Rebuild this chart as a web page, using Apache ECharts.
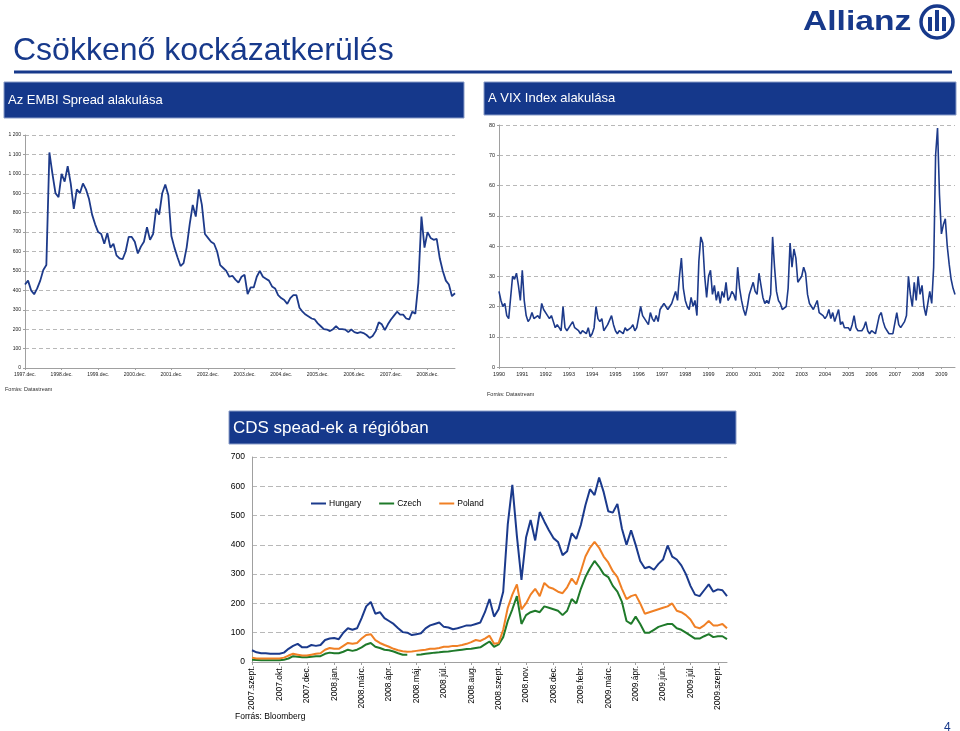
<!DOCTYPE html>
<html>
<head>
<meta charset="utf-8">
<title>Csökkenő kockázatkerülés</title>
<script src="https://cdn.jsdelivr.net/npm/echarts@6/dist/echarts.min.js"></script>
<style>
  html, body { margin: 0; padding: 0; background: #fff; }
  #slide { width: 960px; height: 731px; }
</style>
</head>
<body>
<div id="slide"></div>
<script>
// EMBI spread, monthly, 1997.dec - 2009.szept
var embiTicks = ['1997.dec.', '1998.dec.', '1999.dec.', '2000.dec.', '2001.dec.', '2002.dec.',
  '2003.dec.', '2004.dec.', '2005.dec.', '2006.dec.', '2007.dec.', '2008.dec.'];
var embiSpread = [
  430, 450, 400, 380, 410, 450, 505, 530, 1110, 1000, 900, 880,
  1000, 960, 1040, 950, 820, 920, 900, 950, 920, 870, 790, 740,
  700, 690, 640, 695, 620, 640, 580, 565, 560, 600, 675, 675,
  650, 590, 625, 650, 725, 660, 690, 820, 790, 900, 945, 890,
  680, 620, 570, 525, 540, 620, 740, 840, 780, 920, 840, 690,
  670, 650, 640, 600, 530, 515, 500, 470, 475, 455, 440, 470,
  480, 380, 415, 415, 470, 500, 470, 460, 450, 420, 410, 375,
  360, 350, 330, 360, 375, 375, 310, 290, 275, 265, 255, 250,
  230, 215, 200, 198, 190, 200, 215, 200, 200, 198, 185, 198,
  185, 180, 185, 180, 170, 155, 165, 190, 235, 225, 195, 225,
  250, 270, 290, 275, 275, 255, 250, 290, 280, 440, 780, 620,
  700, 670, 660, 665, 565, 500, 450, 430, 370, 385
];

// VIX index, monthly, 1990.jan - 2009.aug
var vixTicks = ['1990', '1991', '1992', '1993', '1994', '1995', '1996', '1997', '1998', '1999',
  '2000', '2001', '2002', '2003', '2004', '2005', '2006', '2007', '2008', '2009'];
var vixIndex = [
  25, 22, 20, 21, 17, 16, 16, 30, 29, 31, 27, 22,
  32, 22, 17, 15, 16, 18, 16, 16, 17, 16, 21, 19,
  19, 17, 16, 17, 15, 13, 14, 13, 12, 20, 13, 12,
  12, 14, 15, 13, 13, 12, 11, 12, 12, 11, 13, 10,
  11, 13, 20, 16, 15, 16, 12, 12, 14, 14, 17, 14,
  12, 11, 12, 12, 11, 13, 12, 12, 13, 14, 12, 13,
  13, 20, 17, 16, 15, 14, 18, 16, 15, 17, 15, 19,
  20, 21, 20, 19, 20, 21, 23, 25, 22, 30, 36, 26,
  22, 20, 19, 23, 20, 22, 17, 35, 43, 41, 30, 23,
  30, 32, 24, 27, 22, 25, 21, 25, 23, 28, 22, 23,
  25, 24, 22, 33, 26, 22, 19, 17, 20, 24, 26, 28,
  25, 24, 31, 27, 23, 21, 22, 21, 24, 43, 33, 25,
  22, 21, 19, 19, 20, 26, 41, 33, 39, 36, 28, 28,
  30, 33, 31, 24, 21, 20, 19, 19, 22, 18, 18, 17,
  16, 17, 19, 16, 18, 15, 15, 19, 14, 15, 13, 13,
  13, 12, 14, 17, 13, 12, 12, 12, 13, 15, 12, 11,
  12, 12, 11, 11, 17, 18, 15, 13, 12, 11, 11, 11,
  11, 18, 14, 13, 13, 15, 17, 30, 24, 20, 28, 22,
  30, 24, 27, 20, 17, 21, 25, 21, 33, 70, 79, 57,
  44, 47, 49, 40, 34, 29, 26, 24
];

// CDS spreads, weekly, 2007.szept - 2009.szept (one tick label every 6 weeks)
var cdsTicks = ['2007.szept.', '2007.okt.', '2007.dec.', '2008.jan.', '2008.márc.', '2008.ápr.',
  '2008.máj.', '2008.júl.', '2008.aug.', '2008.szept.', '2008.nov.', '2008.dec.',
  '2009.febr.', '2009.márc.', '2009.ápr.', '2009.jún.', '2009.júl.', '2009.szept.'];
var cdsHungary = [
  40, 33, 30, 30, 28, 28, 28, 32, 45, 55, 62, 50,
  50, 58, 55, 58, 75, 80, 82, 78, 100, 115, 110, 115,
  150, 190, 205, 165, 170, 150, 140, 130, 115, 102, 100, 92,
  95, 98, 115, 125, 130, 135, 120, 118, 112, 115, 120, 125,
  125, 130, 135, 170, 215, 155, 180, 240, 470, 605, 430, 280,
  425, 485, 415, 512, 480, 450, 423, 410, 365, 378, 440, 420,
  468, 535, 590, 570, 630, 580, 515, 510, 540, 455, 400, 450,
  400, 345, 320, 325, 315, 335, 350, 398, 360, 350, 330, 300,
  260, 230, 225, 245, 265, 240, 248, 245, 225
];
var cdsCzech = [
  8, 7, 6, 6, 6, 6, 6, 8, 12, 20, 18, 16,
  16, 18, 20, 20, 28, 32, 30, 30, 35, 42, 38, 42,
  50, 60, 65, 52, 48, 42, 40, 36, 30, 25, 25, null,
  25, 26, 28, 30, 32, 33, 35, 36, 38, 40, 42, 44,
  45, 48, 50, 60, 70, 52, 60, 85, 140, 180, 225, 130,
  160, 170, 175, 170, 190, 185, 180, 175, 160, 175, 215, 200,
  250, 290, 320, 345, 325, 300, 290, 260, 240, 205, 140, 130,
  155, 130, 100, 100, 110, 120, 125, 130, 130, 115, 110, 100,
  90, 80, 80, 88, 95, 85, 88, 88, 78
];
var cdsPoland = [
  15, 12, 12, 12, 12, 12, 12, 15, 22, 28, 25, 22,
  22, 25, 28, 30, 42, 48, 45, 45, 55, 65, 62, 65,
  80, 92, 95, 75, 65, 58, 52, 45, 40, 37, 35, 36,
  38, 40, 42, 45, 45, 48, 52, 52, 55, 55, 58, 62,
  68, 75, 72, 80, 90, 62, 65, 110, 185, 230, 265, 180,
  200, 230, 250, 225, 270, 255, 250, 240, 235, 255, 285, 265,
  310, 360, 390, 410, 390, 360, 340, 310, 290, 250, 215, 225,
  230, 200, 165, 170, 175, 180, 185, 190, 200, 175, 170, 160,
  145, 120, 115, 125, 140, 125, 125, 130, 115
];
var cdsNames = ['Hungary', 'Czech', 'Poland'];

var FONT = '"Liberation Sans", Arial, sans-serif';
var BLUE = '#17398b';

var chart = echarts.init(document.getElementById('slide'), null, { renderer: 'canvas' });

function idx(arr) { return arr.map(function (v, i) { return i; }); }
function spaced(v) { return v >= 1000 ? Math.floor(v / 1000) + ' ' + String(v % 1000).padStart(3, '0') : String(v); }

var dashed = { show: true, lineStyle: { color: '#b8b8b8', type: [4, 3], width: 1 } };
var grayLine = { show: true, lineStyle: { color: '#a0a0a0', width: 1 } };

var option = {
  animation: false,
  backgroundColor: '#fff',
  textStyle: { fontFamily: FONT },
  legend: {
    data: cdsNames,
    left: 306, top: 494,
    icon: 'rect', itemWidth: 15, itemHeight: 2, itemGap: 18,
    textStyle: { fontSize: 8.5, color: '#000', fontFamily: FONT, padding: [0, 0, 0, -2] }
  },
  grid: [
    { left: 25, top: 135, width: 430, height: 233 },
    { left: 499, top: 125, width: 456, height: 242 },
    { left: 252, top: 457, width: 475, height: 205 }
  ],
  xAxis: [
    {
      gridIndex: 0, type: 'category', data: idx(embiSpread), boundaryGap: false,
      axisLine: grayLine,
      axisTick: { show: true, interval: 11, length: 2, lineStyle: { color: '#a0a0a0' } },
      axisLabel: { interval: 11, fontSize: 5, color: '#222', margin: 4,
        formatter: function (v, i) { return embiTicks[i / 12] || ''; } }
    },
    {
      gridIndex: 1, type: 'category', data: idx(vixIndex), boundaryGap: false,
      axisLine: grayLine,
      axisTick: { show: true, interval: 11, length: 2, lineStyle: { color: '#a0a0a0' } },
      axisLabel: { interval: 11, fontSize: 5.5, color: '#222', margin: 4,
        formatter: function (v, i) { return vixTicks[i / 12] || ''; } }
    },
    {
      gridIndex: 2, type: 'category', data: idx(cdsHungary), boundaryGap: false,
      axisLine: grayLine,
      axisTick: { show: true, interval: 5, length: 3, lineStyle: { color: '#a0a0a0' } },
      axisLabel: { interval: 5, rotate: 90, fontSize: 8.5, color: '#000', margin: 4,
        formatter: function (v, i) { return cdsTicks[i / 6] || ''; } }
    }
  ],
  yAxis: [
    {
      gridIndex: 0, type: 'value', min: 0, max: 1200, interval: 100,
      axisLine: grayLine, axisTick: { show: true, length: 2, lineStyle: { color: '#a0a0a0' } },
      axisLabel: { fontSize: 5, color: '#222', margin: 4, formatter: spaced },
      splitLine: dashed
    },
    {
      gridIndex: 1, type: 'value', min: 0, max: 80, interval: 10,
      axisLine: grayLine, axisTick: { show: true, length: 2, lineStyle: { color: '#a0a0a0' } },
      axisLabel: { fontSize: 5.5, color: '#222', margin: 4 },
      splitLine: dashed
    },
    {
      gridIndex: 2, type: 'value', min: 0, max: 700, interval: 100,
      axisLine: grayLine, axisTick: { show: false },
      axisLabel: { fontSize: 8.5, color: '#000', margin: 7 },
      splitLine: { show: true, lineStyle: { color: '#b8b8b8', type: [5, 3], width: 1 } }
    }
  ],
  series: [
    { name: 'EMBI', type: 'line', xAxisIndex: 0, yAxisIndex: 0, data: embiSpread,
      showSymbol: false, lineStyle: { color: '#1d3a8a', width: 1.8 } },
    { name: 'VIX', type: 'line', xAxisIndex: 1, yAxisIndex: 1, data: vixIndex,
      showSymbol: false, lineStyle: { color: '#1d3a8a', width: 1.6 } },
    { name: 'Hungary', type: 'line', xAxisIndex: 2, yAxisIndex: 2, data: cdsHungary,
      showSymbol: false, color: '#1b3a8c', lineStyle: { width: 2 } },
    { name: 'Czech', type: 'line', xAxisIndex: 2, yAxisIndex: 2, data: cdsCzech,
      showSymbol: false, connectNulls: false, color: '#1f7a2a', lineStyle: { width: 2 } },
    { name: 'Poland', type: 'line', xAxisIndex: 2, yAxisIndex: 2, data: cdsPoland,
      showSymbol: false, color: '#f08025', lineStyle: { width: 2 } }
  ],
  graphic: [
    // slide title + rule
    { type: 'text', x: 13, y: 51, style: { text: 'Csökkenő kockázatkerülés', fill: BLUE,
      font: '32px ' + FONT, textVerticalAlign: 'middle' } },
    { type: 'line', shape: { x1: 14, y1: 72, x2: 952, y2: 72 }, style: { stroke: BLUE, lineWidth: 3 } },
    // logo
    { type: 'text', x: 803, y: 22, scaleX: 1.2, style: { text: 'Allianz', fill: BLUE,
      font: 'bold 28px ' + FONT, textVerticalAlign: 'middle' } },
    { type: 'circle', shape: { cx: 937, cy: 22, r: 16 }, style: { fill: 'none', stroke: BLUE, lineWidth: 3.5 } },
    { type: 'rect', shape: { x: 928, y: 17, width: 4, height: 14 }, style: { fill: BLUE } },
    { type: 'rect', shape: { x: 935, y: 10, width: 4, height: 21 }, style: { fill: BLUE } },
    { type: 'rect', shape: { x: 942, y: 17, width: 4, height: 14 }, style: { fill: BLUE } },
    // EMBI header
    { type: 'rect', shape: { x: 4, y: 82, width: 460, height: 36 },
      style: { fill: '#15388b', stroke: '#8a9cc8', lineWidth: 1 } },
    { type: 'text', x: 8, y: 100, style: { text: 'Az EMBI Spread alakulása', fill: '#fff',
      font: '13px ' + FONT, textVerticalAlign: 'middle' } },
    // VIX header
    { type: 'rect', shape: { x: 484, y: 82, width: 472, height: 33 },
      style: { fill: '#15388b', stroke: '#8a9cc8', lineWidth: 1 } },
    { type: 'text', x: 488, y: 98, style: { text: 'A VIX Index alakulása', fill: '#fff',
      font: '13px ' + FONT, textVerticalAlign: 'middle' } },
    // CDS header
    { type: 'rect', shape: { x: 229, y: 411, width: 507, height: 33 },
      style: { fill: '#15388b', stroke: '#8a9cc8', lineWidth: 1 } },
    { type: 'text', x: 233, y: 428, style: { text: 'CDS spead-ek a régióban', fill: '#fff',
      font: '17px ' + FONT, textVerticalAlign: 'middle' } },
    // sources
    { type: 'text', x: 5, y: 389, style: { text: 'Forrás: Datastream', fill: '#333',
      font: '5.5px ' + FONT, textVerticalAlign: 'middle' } },
    { type: 'text', x: 487, y: 394, style: { text: 'Forrás: Datastream', fill: '#333',
      font: '5.5px ' + FONT, textVerticalAlign: 'middle' } },
    { type: 'text', x: 235, y: 717, style: { text: 'Forrás: Bloomberg', fill: '#000',
      font: '8.5px ' + FONT, textVerticalAlign: 'middle' } },
    // page number
    { type: 'text', x: 944, y: 728, style: { text: '4', fill: BLUE,
      font: '12px ' + FONT, textVerticalAlign: 'middle' } }
  ]
};

chart.setOption(option);
</script>
</body>
</html>
